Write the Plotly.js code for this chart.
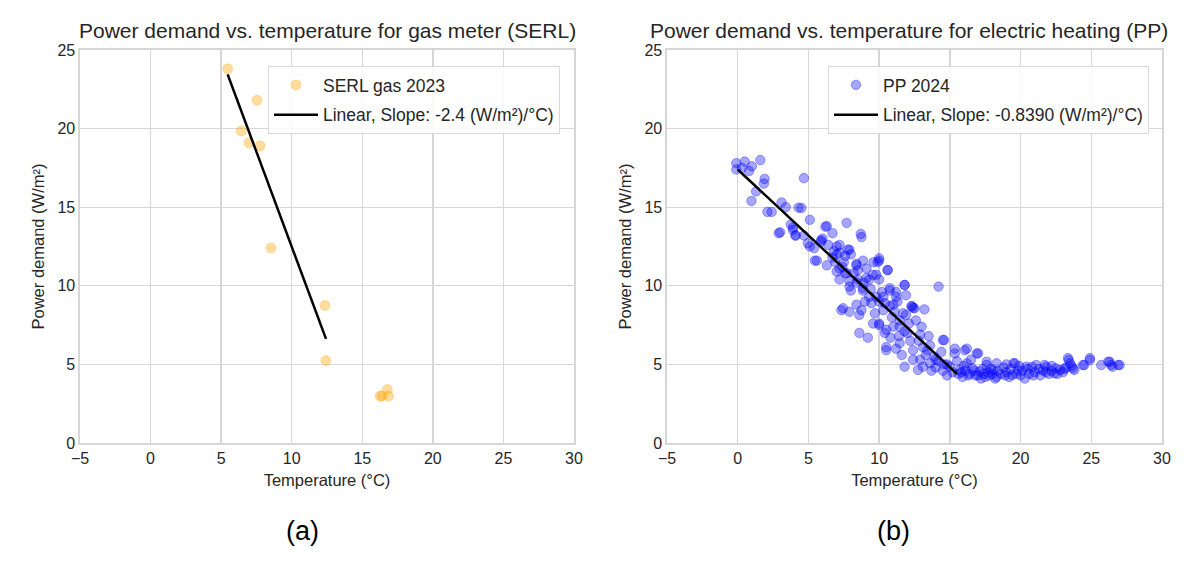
<!DOCTYPE html>
<html>
<head>
<meta charset="utf-8">
<script src="https://cdn.plot.ly/plotly-3.0.1.min.js"></script>
<style>
  body { margin: 0; background: #ffffff; }
  #myDiv { width: 1200px; height: 570px; }
</style>
</head>
<body>
<div id="myDiv"></div>
<script>
// (a) SERL gas meter, 2023
var serlTemp = [5.46, 7.54, 6.43, 6.97, 7.76, 8.54, 12.35, 12.43, 16.27, 16.4, 16.78, 16.86];
var serlPower = [23.8, 21.8, 19.85, 19.1, 18.9, 12.4, 8.75, 5.25, 2.97, 3.0, 3.4, 2.97];
// fitted line end points, slope -2.4
var serlFitTemp = [5.46, 12.43];
var serlFitPower = [23.45, 6.62];

// (b) PP electric heating, 2024
var ppTemp = [
  -0.1, -0.1, 0.3, 0.5, 1.0, 1.6, 0.97, 1.3, 1.85, 1.9, 0.8,
  2.4, 2.9, 3.1, 3.4, 3.75, 3.9, 4.08, 2.1, 3.0,
  4.3, 4.5, 4.68, 5.1, 4.68, 4.96, 5.4, 5.45, 5.9, 6.0, 6.2, 6.4, 5.1, 5.6, 5.9, 4.1, 3.9,
  6.3, 6.7, 7.7, 6.3, 6.7, 7.2, 7.8, 8.0, 7.6, 7.2, 7.0, 7.33, 7.9, 7.9, 7.5, 7.0, 7.4, 6.8, 7.6,
  8.75, 7.2, 7.9, 8.4, 8.86, 10.0, 9.6, 10.6, 9.8, 9.1, 7.7, 7.2, 6.9, 11.8, 10.75,
  11.2, 11.9, 12.3, 7.45, 8.4, 10.0, 9.3, 8.0, 8.86, 10.3, 11.1, 7.9, 8.5, 9.1, 7.0,
  8.7, 8.5, 8.4, 9.9, 10.0, 9.55, 9.3, 8.4, 8.85, 10.0, 9.8, 8.75, 8.6, 9.45, 9.7,
  9.57, 10.0, 8.6, 9.2, 10.3,
  8.2, 8.9, 9.4, 9.0, 10.2, 10.4, 11.0, 10.9, 12.1, 12.9, 13.4, 14.0, 14.6, 13.7, 12.9, 11.4,
  10.6, 10.75, 11.8, 11.2, 10.75, 10.4, 11.0, 11.45, 11.8, 11.7, 10.5, 11.45, 11.3, 11.9,
  11.45, 12.0, 10.5, 11.6, 11.8, 10.0, 10.5, 10.8, 11.2,
  12.4, 13.2, 12.6, 13.0, 12.4, 13.1, 13.6, 12.75, 13.1, 13.6, 12.4, 14.2, 12.5, 12.3,
  13.5, 12.8, 13.9, 13.3, 12.2,
  14.6, 14.4, 15.35, 16.05, 15.0, 15.7, 15.9, 14.5, 15.35, 14.2, 14.8, 15.2, 14.5, 15.5,
  14.0, 14.8, 15.6,
  16.2, 16.6, 17.1, 17.6, 16.9, 16.2, 17.6, 17.2, 16.4, 16.8, 17.4, 17.8, 16.1, 16.5,
  17.0, 17.9,
  15.8, 16.3, 16.7, 17.0, 17.3, 17.7, 18.0, 18.4, 18.9, 19.3, 19.7, 20.0, 20.5, 20.9,
  21.3, 21.8, 22.2, 22.6, 23.1, 23.6, 16.0, 17.5, 19.9,
  18.05, 18.3, 18.3, 19.5, 19.0, 19.6, 19.4, 18.2, 18.6, 19.0, 19.2, 19.8, 18.8,
  20.4, 21.1, 21.8, 20.8, 21.7, 20.3, 20.6, 21.0, 21.4, 20.1, 21.6, 22.0,
  22.5, 23.4, 23.7, 23.35, 23.5, 22.8, 22.4, 23.8, 22.2, 23.0, 23.2,
  24.4, 24.9, 24.5, 24.9, 25.7, 26.2, 26.3, 26.4, 26.5, 26.9, 27.0
];
var ppPower = [
  17.8, 17.4, 17.5, 17.9, 17.6, 18.0, 15.4, 16.0, 16.5, 16.8, 17.3,
  14.7, 13.35, 15.3, 15.0, 13.9, 13.55, 13.2, 14.7, 13.4,
  14.97, 14.95, 16.85, 14.2, 13.2, 12.7, 12.4, 11.6, 12.9, 13.0, 13.76, 12.6, 12.5, 11.6, 12.8, 13.2, 13.7,
  13.8, 13.35, 14.0, 11.3, 11.8, 12.1, 12.3, 12.0, 10.8, 10.4, 10.9, 8.45, 8.35, 9.95, 11.5, 12.5, 11.2, 12.2, 11.9,
  13.1, 12.6, 12.3, 11.3, 11.6, 11.6, 11.5, 11.0, 10.7, 10.5, 10.8, 11.1, 11.5, 10.05, 9.85,
  9.6, 9.4, 8.7, 8.57, 8.8, 9.0, 9.3, 9.7, 9.7, 9.3, 8.35, 10.3, 10.4, 11.1, 12.0,
  13.3, 11.0, 11.4, 11.5, 11.75, 10.7, 10.4, 10.2, 9.85, 10.4, 9.3, 8.45, 8.15, 8.9, 8.25,
  7.6, 7.5, 7.0, 6.7, 8.45,
  10.8, 10.2, 9.8, 9.0, 9.6, 8.9, 8.8, 8.0, 7.6, 6.9, 5.9, 5.3, 5.0, 4.6, 5.3, 6.8,
  11.0, 9.7, 10.05, 9.3, 8.7, 7.0, 7.4, 7.8, 7.1, 8.25, 6.1, 6.35, 9.0, 8.15,
  7.4, 7.0, 5.9, 5.6, 4.85, 7.6, 7.2, 6.7, 6.0,
  8.6, 8.5, 7.8, 7.4, 5.9, 6.1, 6.2, 4.65, 4.85, 5.07, 5.3, 9.95, 8.57, 8.7,
  6.8, 6.5, 5.5, 5.6, 6.5,
  6.55, 5.8, 6.0, 5.9, 4.85, 4.65, 4.2, 6.55, 5.7, 5.2, 5.0, 4.5, 4.6, 5.2,
  4.8, 4.3, 4.4,
  5.07, 4.75, 4.55, 4.96, 5.7, 6.0, 5.17, 4.1, 4.4, 4.3, 4.4, 4.3, 4.6, 5.3,
  5.7, 4.7,
  4.5, 4.3, 4.6, 4.3, 4.7, 4.5, 4.4, 4.6, 4.3, 4.7, 4.4, 4.3, 4.7, 4.3,
  4.7, 4.5, 4.6, 4.4, 4.7, 4.9, 4.9, 4.2, 4.9,
  4.65, 4.2, 5.07, 5.07, 5.0, 5.07, 4.33, 4.1, 4.4, 4.5, 4.2, 4.6, 4.8,
  4.85, 4.96, 4.85, 4.85, 4.96, 4.1, 4.4, 4.5, 4.3, 4.6, 4.6, 4.4,
  4.75, 5.28, 4.75, 5.4, 5.07, 4.65, 4.43, 4.65, 4.9, 4.5, 4.8,
  4.96, 5.4, 4.96, 5.28, 4.96, 5.17, 5.17, 4.96, 4.85, 4.96, 4.96
];
// fitted line end points, slope -0.8390
var ppFitTemp = [0, 15.5];
var ppFitPower = [17.4, 4.4];

var xTicks = [-5, 0, 5, 10, 15, 20, 25, 30];
var yTicks = [0, 5, 10, 15, 20, 25];

var fontFamily = 'Liberation Sans, Arial, sans-serif';
var textColor = '#262626';
var gridColor = '#d6d6d6';

function axisStyle(domain, range, ticks, titleText, anchor) {
  return {
    domain: domain,
    anchor: anchor,
    range: range,
    tickvals: ticks,
    showgrid: true,
    gridcolor: gridColor,
    gridwidth: 1.3,
    zeroline: false,
    showline: true,
    mirror: true,
    linecolor: gridColor,
    linewidth: 1.6,
    ticks: '',
    tickfont: { family: fontFamily, size: 16, color: textColor },
    title: {
      text: titleText,
      font: { family: fontFamily, size: 16.5, color: textColor },
      standoff: 8,
    },
  };
}

var trace = [];

trace.push({
  x: serlTemp,
  y: serlPower,
  xaxis: 'x',
  yaxis: 'y',
  type: 'scatter',
  mode: 'markers',
  name: 'SERL gas 2023',
  legend: 'legend',
  legendgroup: 'serlPts',
  marker: {
    size: 10,
    color: 'rgba(255,165,0,0.38)',
    line: { width: 1, color: 'rgba(255,165,0,0.3)' },
  },
});
trace.push({
  x: serlFitTemp,
  y: serlFitPower,
  xaxis: 'x',
  yaxis: 'y',
  type: 'scatter',
  mode: 'lines',
  name: 'Linear, Slope: -2.4 (W/m²)/°C)',
  legend: 'legend',
  legendgroup: 'serlFit',
  line: { color: '#000000', width: 2.5 },
});

trace.push({
  x: ppTemp,
  y: ppPower,
  xaxis: 'x2',
  yaxis: 'y2',
  type: 'scatter',
  mode: 'markers',
  name: 'PP 2024',
  legend: 'legend2',
  legendgroup: 'ppPts',
  marker: {
    size: 9.5,
    color: 'rgba(0,0,255,0.35)',
    line: { width: 1, color: 'rgba(0,0,255,0.32)' },
  },
});
trace.push({
  x: ppFitTemp,
  y: ppFitPower,
  xaxis: 'x2',
  yaxis: 'y2',
  type: 'scatter',
  mode: 'lines',
  name: 'Linear, Slope: -0.8390 (W/m²)/°C)',
  legend: 'legend2',
  legendgroup: 'ppFit',
  line: { color: '#000000', width: 2.5 },
});

var yDomain = [127 / 570, 520 / 570];
var leftDomain = [80 / 1200, 574 / 1200];
var rightDomain = [667 / 1200, 1162 / 1200];

var legendStyle = {
  bgcolor: 'rgba(255,255,255,0.85)',
  bordercolor: '#d9d9d9',
  borderwidth: 1,
  font: { family: fontFamily, size: 17.5, color: textColor },
  xanchor: 'left',
  yanchor: 'top',
  y: (570 - 66) / 570,
  tracegroupgap: 4,
  itemwidth: 44,
};

var layout = {
  width: 1200,
  height: 570,
  margin: { l: 0, r: 0, t: 0, b: 0 },
  paper_bgcolor: '#ffffff',
  plot_bgcolor: '#ffffff',
  showlegend: true,
  xaxis: axisStyle(leftDomain, [-5, 30], xTicks, 'Temperature (°C)', 'y'),
  yaxis: axisStyle(yDomain, [0, 25], yTicks, 'Power demand (W/m²)', 'x'),
  xaxis2: axisStyle(rightDomain, [-5, 30], xTicks, 'Temperature (°C)', 'y2'),
  yaxis2: axisStyle(yDomain, [0, 25], yTicks, 'Power demand (W/m²)', 'x2'),
  legend: Object.assign({}, legendStyle, { x: 268 / 1200 }),
  legend2: Object.assign({}, legendStyle, { x: 828 / 1200 }),
  annotations: [
    {
      text: 'Power demand vs. temperature for gas meter (SERL)',
      xref: 'paper', yref: 'paper',
      x: 327 / 1200, y: (570 - 31) / 570,
      xanchor: 'center', yanchor: 'middle',
      showarrow: false,
      font: { family: fontFamily, size: 21, color: textColor },
    },
    {
      text: 'Power demand vs. temperature for electric heating (PP)',
      xref: 'paper', yref: 'paper',
      x: 909 / 1200, y: (570 - 31) / 570,
      xanchor: 'center', yanchor: 'middle',
      showarrow: false,
      font: { family: fontFamily, size: 21, color: textColor },
    },
    {
      text: '(a)',
      xref: 'paper', yref: 'paper',
      x: 302 / 1200, y: (570 - 531) / 570,
      xanchor: 'center', yanchor: 'middle',
      showarrow: false,
      font: { family: fontFamily, size: 27, color: '#000000' },
    },
    {
      text: '(b)',
      xref: 'paper', yref: 'paper',
      x: 893 / 1200, y: (570 - 531) / 570,
      xanchor: 'center', yanchor: 'middle',
      showarrow: false,
      font: { family: fontFamily, size: 27, color: '#000000' },
    },
  ],
};

var config = { displayModeBar: false, staticPlot: true };

Plotly.newPlot('myDiv', trace, layout, config);
</script>
</body>
</html>
